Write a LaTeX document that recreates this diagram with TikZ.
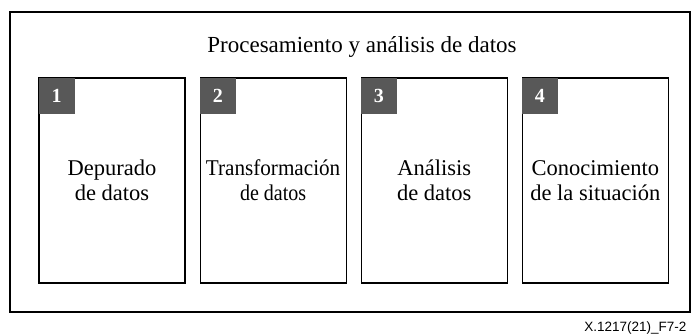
\documentclass[tikz,border=0pt]{standalone}
\usepackage{fontspec}
\setmainfont{Liberation Serif}
\newfontfamily\etiquetafont{Liberation Sans}
\usetikzlibrary{positioning}
\definecolor{numgris}{RGB}{88,88,88}

\begin{document}
\begin{tikzpicture}[x=1pt, y=-1pt,
        marco/.style={draw=black, line width=1.1pt, minimum width=680pt, minimum height=300pt, inner sep=0pt},
        etapa/.style={draw=black, line width=1.1pt, minimum width=146pt, minimum height=205pt, inner sep=0pt},
        numero/.style={fill=numgris, text=white, minimum size=36pt, inner sep=0pt, font=\fontsize{20}{20}\selectfont\bfseries},
        texto/.style={align=center, font=\fontsize{22.5}{25}\selectfont},
    ]
    \useasboundingbox (0,0) rectangle (695,334);

    % Frame and title
    \node[marco] (marco) at (350,162) {};
    \node[anchor=base, font=\fontsize{23}{25}\selectfont] (titulo) at (362,53) {Procesamiento y análisis de datos};

    % Stages
    \node[etapa] (depurado) at (112,180.5) {};
    \node[etapa, right=14pt of depurado] (transformacion) {};
    \node[etapa, right=14pt of transformacion] (analisis) {};
    \node[etapa, right=14pt of analisis] (conocimiento) {};

    % Numbers
    \node[numero, anchor=north west] (uno) at (depurado.north west) {1};
    \node[numero, anchor=north west] (dos) at (transformacion.north west) {2};
    \node[numero, anchor=north west] (tres) at (analisis.north west) {3};
    \node[numero, anchor=north west] (cuatro) at (conocimiento.north west) {4};

    % Texts
    \node[texto] (tdepurado) at (depurado) {Depurado\\de datos};
    \node[texto] (ttransformacion) at (transformacion) {\scalebox{0.94}[1]{Transformación}\\\scalebox{0.89}[1]{de datos}};
    \node[texto] (tanalisis) at (analisis) {Análisis\\de datos};
    \node[texto] (tconocimiento) at (conocimiento) {Conocimiento\\de la situación};

    % Reference
    \node[anchor=base east, font=\etiquetafont\fontsize{13.5}{14}\selectfont] (ref) at (690,331) {X.1217(21)\_F7-2};
\end{tikzpicture}
\end{document}
